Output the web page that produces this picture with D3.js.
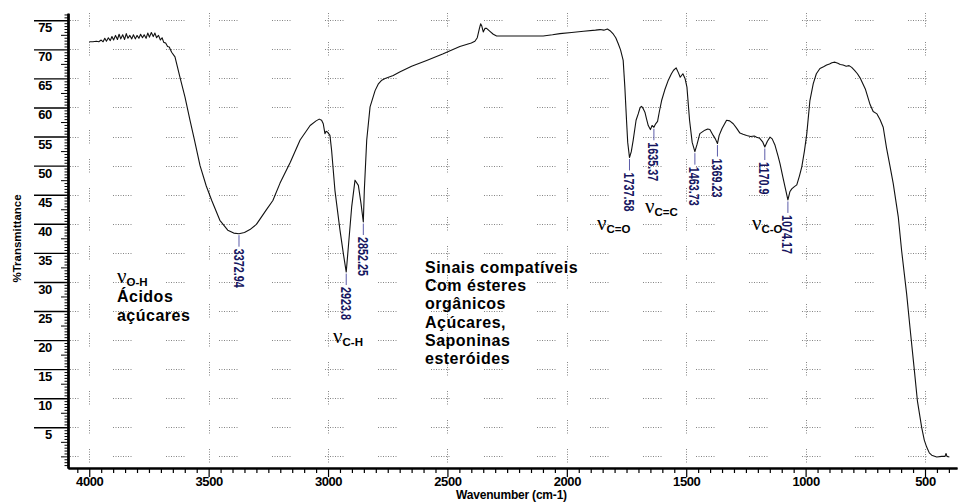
<!DOCTYPE html>
<html>
<head>
<meta charset="utf-8">
<script src="https://cdn.jsdelivr.net/npm/d3@7"></script>
<style>
  html, body { margin: 0; padding: 0; background: #fff; }
  svg { display: block; font-family: "Liberation Sans", Arial, sans-serif; }
</style>
</head>
<body>
<svg id="chart" width="958" height="502"></svg>
<script>
// IR spectrum: wavenumber (cm-1) and %transmittance
const wavenumbers = [
  4000, 3985, 3970, 3960, 3950, 3942, 3935, 3928, 3920, 3912, 3905, 3898, 3890, 3882, 3875, 3868,
  3860, 3852, 3845, 3838, 3830, 3822, 3815, 3807, 3800, 3792, 3785, 3777, 3770, 3762, 3755, 3748,
  3740, 3732, 3725, 3718, 3710, 3702, 3695, 3688, 3680, 3672, 3665, 3655, 3641, 3620, 3599, 3578,
  3560, 3536, 3510, 3487, 3453, 3420, 3395, 3372.94, 3350, 3327, 3300, 3285, 3260, 3231, 3201, 3158,
  3117, 3075, 3050, 3037, 3027, 3020, 3013, 3008, 3003, 2992, 2985, 2971, 2950, 2936, 2923.8, 2915,
  2901, 2887, 2873, 2862, 2852.25, 2848, 2838, 2824, 2803, 2790, 2775, 2761, 2727, 2700, 2650, 2587,
  2520, 2448, 2400, 2385, 2375, 2366, 2361, 2356, 2350, 2343, 2336, 2322, 2308, 2294, 2200, 2099,
  2060, 2029, 1980, 1930, 1880, 1861, 1845, 1830, 1819, 1805, 1795, 1785, 1775, 1764, 1757, 1750,
  1745, 1737.58, 1730, 1722, 1710, 1701, 1693, 1687, 1680, 1673, 1666, 1659, 1650, 1643, 1635.37, 1628,
  1620, 1612, 1603, 1590, 1575, 1562, 1553, 1542, 1533, 1525, 1514, 1505, 1497, 1486, 1475, 1463.73,
  1455, 1443, 1422, 1410, 1401, 1387, 1378, 1369.23, 1362, 1350, 1331, 1318, 1303, 1290, 1275, 1262,
  1247, 1230, 1215, 1205, 1192, 1180, 1170.9, 1160, 1149, 1140, 1128, 1115, 1107, 1095, 1086, 1074.17,
  1066, 1058, 1047, 1037, 1026, 1016, 1005, 995, 982, 968, 955, 940, 925, 912, 900, 890,
  877, 865, 855, 843, 830, 818, 807, 795, 783, 772, 750, 730, 717, 701, 688, 675,
  661, 647, 633, 612, 598, 577, 563, 546, 532, 514, 503, 493, 482, 472, 451, 430,
  416, 412, 408, 398
];
const transmittance = [
  71.3, 71.3, 71.4, 71.3, 71.6, 71.3, 71.9, 71.4, 72.0, 71.5, 72.2, 71.6, 72.4, 71.7, 72.6, 71.8,
  72.5, 71.7, 72.7, 71.9, 72.4, 71.8, 72.5, 71.8, 72.4, 71.9, 72.6, 72.0, 72.5, 71.9, 72.8, 72.1,
  72.9, 72.2, 72.8, 72.0, 72.4, 71.6, 72.0, 71.2, 71.1, 70.5, 70.4, 69.5, 68.7, 65.2, 61.8, 57.8,
  54.5, 50.0, 46.5, 44.0, 40.6, 38.9, 38.4, 38.3, 38.5, 39.0, 39.9, 40.8, 42.3, 44.0, 47.0, 50.6,
  54.4, 56.9, 57.7, 58.0, 57.8, 57.2, 55.5, 55.9, 55.8, 55.2, 52.6, 45.7, 38.9, 34.9, 31.7, 36.0,
  42.9, 47.5, 46.6, 43.5, 40.3, 45.8, 54.4, 60.1, 62.9, 64.0, 64.7, 65.0, 65.5, 66.1, 67.1, 68.1,
  69.2, 70.5, 71.1, 71.4, 72.0, 73.6, 74.4, 74.0, 73.0, 73.6, 73.6, 73.1, 72.6, 72.3, 72.3, 72.3,
  72.5, 72.7, 72.9, 73.1, 73.3, 73.4, 73.3, 73.5, 73.2, 72.6, 72.0, 71.0, 69.9, 68.1, 63.5, 57.8,
  54.0, 51.4, 52.4, 54.4, 57.8, 58.9, 60.0, 60.2, 59.8, 59.2, 58.0, 56.9, 56.2, 56.9, 56.6, 57.2,
  57.6, 59.4, 61.2, 63.0, 64.7, 65.8, 66.4, 66.8, 66.0, 65.2, 65.8, 65.0, 63.5, 57.8, 54.0, 52.4,
  53.6, 55.5, 56.1, 56.3, 56.2, 55.2, 54.6, 53.8, 55.2, 56.4, 57.8, 57.7, 57.2, 56.5, 55.6, 55.4,
  55.2, 55.0, 55.1, 54.9, 54.7, 54.1, 53.2, 54.2, 54.9, 54.6, 53.5, 51.6, 50.3, 48.0, 46.3, 44.1,
  45.5, 46.0, 46.4, 46.7, 48.2, 49.8, 52.5, 55.5, 61.2, 64.1, 65.8, 66.7, 67.0, 67.3, 67.5, 67.7,
  67.8, 67.6, 67.4, 67.3, 67.1, 67.2, 66.9, 66.4, 65.8, 65.1, 63.2, 60.5, 59.3, 58.9, 57.9, 56.6,
  53.0, 50.0, 46.9, 41.2, 35.4, 28.0, 22.2, 15.4, 9.6, 5.0, 2.8, 1.6, 0.6, 0.2, -0.1, 0.0,
  0.0, 0.5, 0.0, -0.1
];

// Labelled absorption minima
const peakWavenumbers = [3372.94, 2923.8, 2852.25, 1737.58, 1635.37, 1463.73, 1369.23, 1170.9, 1074.17];
const peakLabels = ["3372.94", "2923.8", "2852.25", "1737.58", "1635.37", "1463.73", "1369.23", "1170.9", "1074.17"];

// Axis ticks
const xTickValues = [4000, 3500, 3000, 2500, 2000, 1500, 1000, 500];
const yTickValues = [5, 10, 15, 20, 25, 30, 35, 40, 45, 50, 55, 60, 65, 70, 75];

const svg = d3.select("#chart");
const W = 958, H = 502;
svg.append("rect").attr("width", W).attr("height", H).attr("fill", "#fff");

const plotLeft = 68, plotRight = 957, plotTop = 13.3, plotBottom = 468;
const x = d3.scaleLinear().domain([4089, 366]).range([plotLeft, plotRight]);
const y = d3.scaleLinear().domain([-2, 76.2]).range([plotBottom, plotTop]);

// ---- dotted grid: short dotted runs along each 5 % row and each 500 cm-1 column ----
const gridRows = d3.range(0, 76, 5);
const hSegments = [];
gridRows.forEach(t => {
  for (let start = plotLeft - 8; start < plotRight; start += 53) {
    const a = Math.max(start, plotLeft + 2), b = Math.min(start + 20, plotRight);
    if (b > a) hSegments.push({ a, b, yy: Math.round(y(t)) + 0.5 });
  }
});
const vSegments = [];
xTickValues.forEach(v => {
  gridRows.forEach(t => {
    vSegments.push({ xx: Math.round(x(v)) + 0.5, yc: Math.round(y(t)) });
  });
});
const gridG = svg.append("g").attr("class", "grid");
gridG.selectAll("line.h").data(hSegments).join("line").attr("class", "h")
  .attr("x1", d => d.a).attr("x2", d => d.b)
  .attr("y1", d => d.yy).attr("y2", d => d.yy)
  .attr("stroke", "#858585").attr("stroke-width", 1).attr("stroke-dasharray", "1 1.5");
gridG.selectAll("line.v").data(vSegments).join("line").attr("class", "v")
  .attr("x1", d => d.xx).attr("x2", d => d.xx)
  .attr("y1", d => d.yc - 7).attr("y2", d => d.yc + 7)
  .attr("stroke", "#858585").attr("stroke-width", 1).attr("stroke-dasharray", "1 1.5");

// ---- y axis ----
const yAxisG = svg.append("g").attr("transform", `translate(${plotLeft},0)`);
const minorY = d3.range(-1.5, 76.01, 0.5).filter(t => t % 2.5 !== 0);
const midY = d3.range(0, 76, 2.5).filter(t => t % 5 !== 0 || t === 0);
yAxisG.append("g").call(d3.axisLeft(y).tickValues(minorY).tickSize(3.5).tickSizeOuter(0).tickFormat(""));
yAxisG.append("g").call(d3.axisLeft(y).tickValues(midY).tickSize(7).tickSizeOuter(0).tickFormat(""));
const yMajor = yAxisG.append("g").call(d3.axisLeft(y).tickValues(yTickValues).tickSize(34).tickSizeOuter(0).tickFormat(d3.format("d")));
yAxisG.selectAll(".domain").attr("stroke", "#000").attr("stroke-width", 2);
yAxisG.selectAll(".tick line").attr("stroke", "#000").attr("stroke-width", 1);
yMajor.selectAll(".tick line").attr("stroke-width", 1.4);
yMajor.selectAll(".tick text")
  .attr("x", -16).attr("dy", 11.5)
  .attr("text-anchor", "end")
  .attr("font-family", "'Liberation Sans', Arial, sans-serif")
  .attr("font-size", 13).attr("font-weight", "bold").attr("fill", "#000")
  .attr("letter-spacing", "-0.3");

// ---- x axis ----
const xAxisG = svg.append("g").attr("transform", `translate(0,${plotBottom})`);
const minorX = d3.range(400, 4051, 50).filter(v => v % 500 !== 0);
xAxisG.append("g").call(d3.axisBottom(x).tickValues(minorX).tickSize(5).tickSizeOuter(0).tickFormat(""));
const xMajor = xAxisG.append("g").call(d3.axisBottom(x).tickValues(xTickValues).tickSize(9).tickSizeOuter(0).tickPadding(0).tickFormat(d3.format("d")));
xAxisG.selectAll(".domain").attr("stroke", "#000").attr("stroke-width", 2);
xAxisG.selectAll(".tick line").attr("stroke", "#000").attr("stroke-width", 1.2);
xMajor.selectAll(".tick text")
  .attr("y", 18).attr("dy", 0)
  .attr("font-family", "'Liberation Sans', Arial, sans-serif")
  .attr("font-size", 13).attr("font-weight", "bold").attr("fill", "#000")
  .attr("letter-spacing", "-0.4");

// axis titles
svg.append("text")
  .attr("x", (plotLeft + plotRight) / 2 - 1).attr("y", 499)
  .attr("text-anchor", "middle")
  .attr("font-size", 12).attr("font-weight", "bold").attr("letter-spacing", "-0.2")
  .text("Wavenumber (cm-1)");
svg.append("text")
  .attr("transform", "translate(21,238.5) rotate(-90)")
  .attr("text-anchor", "middle")
  .attr("font-size", 11.5).attr("font-weight", "bold").attr("letter-spacing", "0")
  .text("%Transmittance");

// ---- spectrum ----
const spectrum = wavenumbers.map((w, i) => [w, transmittance[i]]);
svg.append("path")
  .datum(spectrum)
  .attr("fill", "none")
  .attr("stroke", "#111")
  .attr("stroke-width", 1.1)
  .attr("stroke-linejoin", "round")
  .attr("d", d3.line().x(d => x(d[0])).y(d => y(d[1])));

// ---- peak markers ----
const peaks = peakWavenumbers.map((w, i) => ({
  w, label: peakLabels[i], t: transmittance[wavenumbers.indexOf(w)]
}));
const pk = svg.append("g");
peaks.forEach(p => {
  const px = x(p.w), py = y(p.t);
  pk.append("line")
    .attr("x1", px).attr("x2", px)
    .attr("y1", py + 1.5).attr("y2", py + 13)
    .attr("stroke", "#5c5ca8").attr("stroke-width", 1);
  pk.append("text")
    .attr("transform", `translate(${px},${py + 15}) rotate(90) scale(0.72,1)`)
    .attr("dy", "0.36em")
    .attr("font-size", 15).attr("font-weight", "bold")
    .attr("fill", "#161660")
    .text(p.label);
});

// ---- band assignments ----
function bandLabel(w, t, sub) {
  const tx = svg.append("text").attr("x", x(w)).attr("y", y(t)).attr("fill", "#000");
  tx.append("tspan").attr("font-family", "'Liberation Serif', 'Times New Roman', serif")
    .attr("font-size", 21).text("ν");
  tx.append("tspan").attr("font-size", 11.5).attr("font-weight", "bold")
    .attr("dy", 3).text(sub);
}
bandLabel(3884, 29.8, "O-H");
bandLabel(2979, 19.5, "C-H");
bandLabel(1874, 38.9, "C=O");
bandLabel(1673, 41.8, "C=C");
bandLabel(1225, 38.9, "C-O");

function noteLines(w, t, lines) {
  const g = svg.append("text").attr("x", x(w)).attr("y", y(t))
    .attr("font-size", 16).attr("font-weight", "bold").attr("letter-spacing", "0.5")
    .attr("fill", "#000");
  lines.forEach((s, i) => {
    g.append("tspan").attr("x", x(w)).attr("dy", i === 0 ? 0 : 18.3).text(s);
  });
}
noteLines(3884, 26.5, ["Ácidos", "açúcares"]);
noteLines(2594, 31.56, ["Sinais compatíveis", "Com ésteres", "orgânicos", "Açúcares,", "Saponinas", "esteróides"]);
</script>
</body>
</html>
